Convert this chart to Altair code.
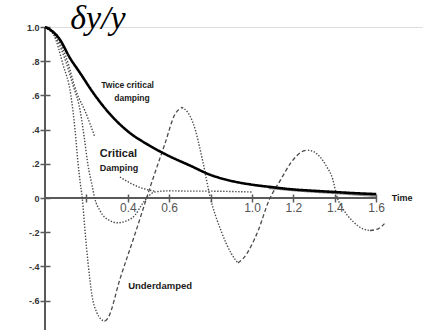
import altair as alt
import pandas as pd

# ---------------------------------------------------------------
# Relaxation of a displaced oscillator: dy/y against time
# ---------------------------------------------------------------

# Twice critical damping (heavy solid curve)
twice_t = [0, 0.03, 0.07, 0.12, 0.17, 0.23, 0.30, 0.40, 0.50, 0.60, 0.70,
           0.80, 0.90, 1.00, 1.10, 1.20, 1.30, 1.40, 1.50, 1.60]
twice_v = [1.0, 0.98, 0.93, 0.82, 0.73, 0.62, 0.51, 0.39, 0.31, 0.245, 0.19,
           0.135, 0.10, 0.078, 0.063, 0.05, 0.042, 0.035, 0.028, 0.023]

# late tail running just under the heavy curve
tail_t = [1.08, 1.20, 1.30, 1.41, 1.50, 1.60]
tail_v = [0.058, 0.045, 0.036, 0.028, 0.020, 0.012]

# Underdamped response
under_t = [0, 0.04, 0.087, 0.125, 0.145, 0.16, 0.17, 0.18, 0.193, 0.208, 0.227,
           0.25, 0.272, 0.29,
           0.305, 0.362, 0.435, 0.507, 0.58, 0.628, 0.662,
           0.69, 0.715, 0.763, 0.797, 0.85, 0.90, 0.932,
           0.96, 1.03, 1.08, 1.14, 1.19, 1.24, 1.27,
           1.30, 1.36, 1.39, 1.41, 1.44, 1.49, 1.536, 1.57,
           1.61, 1.64]
under_v = [1.0, 0.96, 0.78, 0.60, 0.40, 0.20, 0.09, 0.0, -0.19, -0.38, -0.57,
           -0.67, -0.71, -0.72,
           -0.70, -0.475, -0.21, 0.06, 0.32, 0.49, 0.53,
           0.50, 0.44, 0.21, 0.01, -0.19, -0.325, -0.38,
           -0.35, -0.19, -0.02, 0.11, 0.21, 0.27, 0.28,
           0.27, 0.185, 0.11, 0.01, -0.064, -0.14, -0.18, -0.19,
           -0.18, -0.15]

# Lightly damped response with one small overshoot
light_t = [0, 0.06, 0.10, 0.135, 0.17, 0.19, 0.208, 0.227, 0.24, 0.266, 0.314,
           0.35, 0.396, 0.435, 0.47, 0.50, 0.53, 0.60, 0.70, 0.80, 0.90, 1.0]
light_v = [1.0, 0.92, 0.80, 0.66, 0.51, 0.35, 0.19, 0.076, 0.0, -0.075, -0.133,
           -0.145, -0.133, -0.10, -0.035, 0.01, 0.035, 0.042, 0.04, 0.04, 0.038, 0.035]

# Critical damping (runs behind its own label)
crit_t = [0, 0.05, 0.10, 0.155, 0.193, 0.24, 0.362, 0.415, 0.49, 0.53]
crit_v = [1.0, 0.95, 0.83, 0.61, 0.51, 0.36, 0.123, 0.085, 0.05, 0.04]
crit_gap = (0.25, 0.35)

# axis ticks and their labels
y_ticks = [-0.6, -0.4, -0.2, 0.0, 0.2, 0.4, 0.6, 0.8, 1.0]
y_tick_text = ["-.6", "-.4", "-.2", "0", ".2", ".4", ".6", ".8", "1.0"]
x_ticks = [0.2, 0.4, 0.6, 0.8, 1.0, 1.2, 1.4, 1.6]
x_tick_text = ["", "0.4", "0.6", "", "1.0", "1.2", "1.4", "1.6"]

# ---------------------------------------------------------------
PX_PER_T = 207
PX_PER_V = 171
LEFT, TOP = 45, 27
W, H = 423 - LEFT, 330 - TOP
X_MAX = W / PX_PER_T
Y_MIN = 1.0 - H / PX_PER_V
AXIS_GREY = "#5a5a5a"
CURVE_GREY = "#4a4a4a"
SANS = "Liberation Sans"


def label_expr(values, texts):
    expr = "''"
    for val, txt in reversed(list(zip(values, texts))):
        expr = f"(abs(datum.value - ({val})) < 0.001) ? '{txt}' : ({expr})"
    return expr


x_axis = alt.Axis(values=x_ticks, labelExpr=label_expr(x_ticks, x_tick_text),
                  domain=False, grid=False, title=None, offset=-(H - 167),
                  tickSize=8, tickWidth=1.5, tickColor=AXIS_GREY,
                  labelFont=SANS, labelFontSize=12, labelColor="#555555",
                  labelPadding=0, labelFlush=False, labelOverlap=False)
y_axis = alt.Axis(values=y_ticks, labelExpr=label_expr(y_ticks, y_tick_text),
                  domain=False, grid=False, title=None, offset=-5,
                  tickSize=10, tickWidth=1.5, tickColor=AXIS_GREY,
                  labelFont=SANS, labelFontSize=9, labelFontWeight="bold",
                  labelColor="#333333", labelPadding=1, labelOverlap=False)

x_enc = alt.X("t:Q", scale=alt.Scale(domain=[0, X_MAX], nice=False, zero=False), axis=x_axis)
y_enc = alt.Y("v:Q", scale=alt.Scale(domain=[Y_MIN, 1.0], nice=False, zero=False), axis=y_axis)


def split_by_direction(ts, vs, prefix):
    """Cut a curve at its turning points; each piece remembers whether it rises or falls."""
    rows, seg, direction = [], 0, None
    for i in range(len(ts) - 1):
        d = "rise" if vs[i + 1] > vs[i] else "fall"
        if d != direction:
            seg += 1
            direction = d
            rows.append({"t": ts[i], "v": vs[i], "seg": f"{prefix}{seg}", "dir": d})
        rows.append({"t": ts[i + 1], "v": vs[i + 1], "seg": f"{prefix}{seg}", "dir": d})
    return pd.DataFrame(rows)


def line(df, color, width, dash):
    return alt.Chart(df).mark_line(
        color=color, strokeWidth=width, strokeDash=dash, interpolate="monotone",
        strokeCap="butt"
    ).encode(x=x_enc, y=y_enc, detail="seg:N")


def note(text, t, v, size, weight="bold", font=SANS, style="normal",
         baseline="middle", color="#1a1a1a"):
    df = pd.DataFrame({"t": [t], "v": [v], "s": [text]})
    return alt.Chart(df).mark_text(
        font=font, fontSize=size, fontWeight=weight, fontStyle=style,
        baseline=baseline, align="center", color=color
    ).encode(x=x_enc, y=y_enc, text="s:N")


under = split_by_direction(under_t, under_v, "u")
under_fall = under[under["dir"] == "fall"]
under_rise = under[under["dir"] == "rise"]

light = pd.DataFrame({"t": light_t, "v": light_v, "seg": "light"})
crit = pd.DataFrame({"t": crit_t, "v": crit_v})
crit["seg"] = ["crit_a" if t < crit_gap[0] else "crit_b" for t in crit_t]
twice = pd.DataFrame({"t": twice_t, "v": twice_v, "seg": "twice"})
tail = pd.DataFrame({"t": tail_t, "v": tail_v, "seg": "tail"})

# axis lines: the time axis stops at the last tick
x_line = alt.Chart(pd.DataFrame({"t": [0.0], "t2": [x_ticks[-1]], "v": [0.0]})).mark_rule(
    color=AXIS_GREY, strokeWidth=2).encode(x=x_enc, x2="t2:Q", y=y_enc)
y_line = alt.Chart(pd.DataFrame({"t": [0.0], "v": [Y_MIN], "v2": [1.0]})).mark_rule(
    color=AXIS_GREY, strokeWidth=2).encode(x=x_enc, y=y_enc, y2="v2:Q")

chart = alt.layer(
    x_line,
    y_line,
    line(light, CURVE_GREY, 1.4, [1.4, 1.6]),
    line(crit, CURVE_GREY, 1.4, [1.4, 1.6]),
    line(under_fall, CURVE_GREY, 1.4, [1.4, 1.6]),
    line(under_rise, CURVE_GREY, 1.3, [4, 2.5]),
    line(tail, "#8c8c8c", 2, [1, 0]),
    line(twice, "#000000", 2.6, [1, 0]),
    note("Twice critical", 0.399, 0.658, 8.5),
    note("damping", 0.42, 0.582, 8.5),
    note("Critical", 0.355, 0.257, 11),
    note("Damping", 0.357, 0.178, 9),
    note("Underdamped", 0.556, -0.515, 9.5),
    note("Time", 1.725, 0.0, 9),
    note("δy/y", 0.256, 0.988, 34, weight="normal", font="Liberation Serif",
         style="italic", baseline="alphabetic", color="#000000"),
).properties(
    width=W, height=H,
    autosize=alt.AutoSizeParams(type="none"),
    padding={"left": LEFT, "top": TOP, "right": 0, "bottom": 0},
).configure_view(stroke=None).configure(background="white")

chart.save("out.html", embed_options={"renderer": "svg", "actions": False})
